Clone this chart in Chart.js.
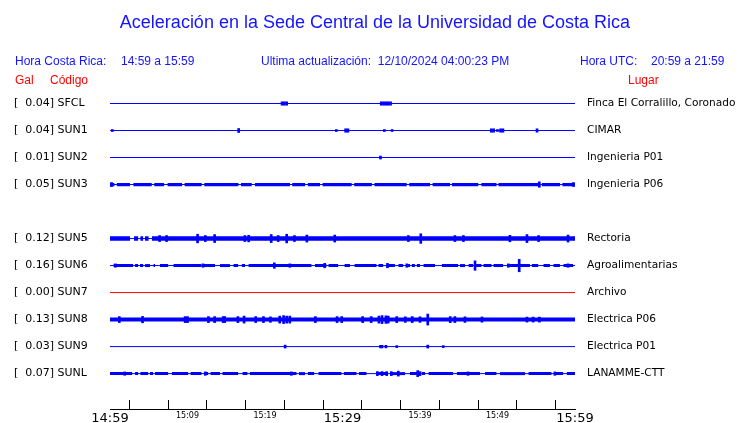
<!DOCTYPE html>
<html>
<head>
<meta charset="utf-8">
<script src="https://cdn.jsdelivr.net/npm/chart.js@4.4.1/dist/chart.umd.min.js"></script>
<style>
  html, body { margin: 0; padding: 0; background: #fff; }
  #wrap { position: relative; width: 740px; height: 423px; overflow: hidden; }
  canvas { position: absolute; left: 0; top: 0; }
  .t { position: absolute; white-space: pre; font-family: "Liberation Sans", Arial, sans-serif;
       font-size: 12px; line-height: 12px; color: #1414ff; }
  #title { font-size: 18px; line-height: 18px; left: 0; width: 750px; text-align: center; top: 13px; }
  .red { color: #ff0000; }
</style>
</head>
<body>
<div id="wrap">
  <canvas id="sismo" width="740" height="423"></canvas>
  <div class="t" id="title">Aceleración en la Sede Central de la Universidad de Costa Rica</div>
  <div class="t" style="left:15px;top:55px">Hora Costa Rica:</div>
  <div class="t" style="left:121px;top:55px">14:59 a 15:59</div>
  <div class="t" style="left:261px;top:55px">Ultima actualización:  12/10/2024 04:00:23 PM</div>
  <div class="t" style="left:580px;top:55px">Hora UTC:</div>
  <div class="t" style="left:651px;top:55px">20:59 a 21:59</div>
  <div class="t red" style="left:15px;top:74px">Gal</div>
  <div class="t red" style="left:50px;top:74px">Código</div>
  <div class="t red" style="left:628px;top:74px">Lugar</div>
</div>
<script>
// Station traces, one row each (row 4 = SUN4 is not reporting)
const stations = ["SFCL", "SUN1", "SUN2", "SUN3", "SUN5", "SUN6", "SUN7", "SUN8", "SUN9", "SUNL"];
const rows = [0, 1, 2, 3, 5, 6, 7, 8, 9, 10];
const peakGal = [0.04, 0.04, 0.01, 0.05, 0.12, 0.16, 0.00, 0.13, 0.03, 0.07];
const places = ["Finca El Corralillo, Coronado", "CIMAR", "Ingenieria P01", "Ingenieria P06", "Rectoria",
  "Agroalimentarias", "Archivo", "Electrica P06", "Electrica P01", "LANAMME-CTT"];

// half width of the background noise band (counts, 27 counts = one row)
const noiseLevel = [0, 0, 0, 1.6, 2.3, 1.5, 0, 2.0, 0, 1.5];

// stretches (minutes after 14:59) where the noise band is present
const sun3Noise = [[0, 0.6], [0.85, 2.6], [3.0, 5.4], [5.7, 7.0], [7.4, 9.3], [9.6, 11.85], [12.15, 16.6],
  [16.9, 18.3], [18.7, 23.25], [23.5, 25.2], [25.5, 27.1], [27.4, 31.2], [31.5, 33.8], [34.1, 38.3],
  [38.6, 41.3], [41.6, 43.9], [44.1, 47.55], [47.9, 49.9], [50.1, 55.3], [55.7, 58.1], [58.35, 60]];
const sun5Noise = [[0, 2.6], [3.1, 3.65], [3.9, 4.3], [4.5, 5.0], [5.4, 60]];
const sun6Noise = [[0.43, 3.01], [3.23, 3.65], [3.87, 4.3], [4.52, 5.16], [5.59, 5.81], [6.45, 7.53], [8.17, 11.83],
  [12.04, 13.55], [14.19, 15.48], [15.91, 16.56], [16.99, 17.42], [17.85, 26.02], [26.45, 27.96], [28.17, 29.46],
  [30.24, 30.97], [31.53, 34.41], [34.62, 35.27], [35.7, 36.77], [37.2, 37.85], [38.28, 38.71], [38.92, 39.35],
  [39.57, 40.0], [40.43, 41.94], [42.8, 44.95], [45.16, 45.81], [46.24, 46.88], [47.1, 47.96], [48.17, 49.25],
  [49.46, 50.75], [51.4, 54.19], [54.41, 55.27], [55.91, 56.77], [57.2, 58.06], [58.49, 59.78]];
const sun8Noise = [[0, 60]];
const sunlNoise = [[0, 2.88], [3.23, 3.65], [3.9, 4.95], [5.16, 5.59], [5.81, 7.53], [7.96, 10.11], [10.37, 11.83],
  [12.09, 12.69], [12.95, 14.19], [14.49, 16.56], [17.08, 17.76], [18.02, 24.09], [24.39, 25.16], [25.51, 26.37],
  [26.88, 29.89], [30.15, 31.83], [32.13, 33.12], [34.41, 35.91], [36.26, 38.06], [38.71, 39.78], [40.22, 40.65],
  [41.08, 44.3], [44.73, 47.74], [48.39, 49.89], [50.32, 53.55], [53.98, 56.99], [57.42, 58.49], [58.92, 60]];
const noiseSpans = [[], [], [], sun3Noise, sun5Noise, sun6Noise, [], sun8Noise, [], sunlNoise];

// peaks above the noise: [minute after 14:59, half amplitude in counts]
const sfclPeaks = [[22.2, 1.7], [22.5, 1.7], [22.8, 1.7], [35.0, 1.7], [35.3, 1.7], [35.6, 1.7], [35.9, 1.7], [36.2, 1.7]];
const sun1Peaks = [[0.3, 1], [16.6, 2], [29.2, 1], [30.4, 1.7], [30.7, 1.7], [35.4, 1], [36.4, 1], [49.2, 1.7], [49.5, 1.7],
  [50.0, 1], [50.4, 1.7], [50.7, 1.7], [55.1, 1.7]];
const sun2Peaks = [[34.9, 1.5]];
const sun3Peaks = [[0.2, 2], [55.4, 2.7], [59.8, 2]];
const sun5Peaks = [[6.4, 3], [7.3, 3], [11.3, 4.3], [12.3, 3], [13.5, 4], [17.4, 3], [17.9, 3.3], [20.8, 4], [21.7, 3],
  [22.8, 4.3], [23.8, 3], [25.4, 3.5], [29.0, 3.5], [38.5, 3], [40.1, 4.8], [44.5, 3], [45.6, 3], [51.6, 3.2],
  [53.8, 4], [55.3, 3], [59.1, 3.5]];
const sun6Peaks = [[0.7, 1.7], [12.0, 1.7], [21.2, 2.7], [23.2, 1.7], [27.7, 2.2], [35.8, 2.2], [38.3, 1.7], [47.1, 4.7],
  [51.4, 1.7], [52.8, 6.2], [59.1, 1.7]];
const sun7Peaks = [];
const sun8Peaks = [[1.2, 3], [4.2, 3.2], [9.7, 3], [10.0, 3], [12.7, 3], [13.5, 3], [14.6, 3], [14.8, 3], [16.5, 3],
  [17.3, 3.5], [18.8, 3], [19.8, 3], [20.7, 2.7], [21.9, 3.5], [22.4, 4], [22.8, 3.5], [23.2, 3.5], [26.5, 3],
  [29.3, 3], [29.9, 3], [32.6, 3], [33.7, 3], [34.7, 3.5], [35.1, 4], [35.6, 3.8], [35.9, 3.5], [37.0, 3],
  [38.1, 2.8], [39.0, 3], [40.0, 2.8], [41.0, 5.5], [43.9, 3], [44.5, 3], [45.8, 2.8], [48.0, 2.6], [53.8, 2.5],
  [54.6, 2.5], [55.4, 2.5]];
const sun9Peaks = [[22.6, 1.5], [34.9, 1.3], [35.1, 1.3], [35.6, 1.3], [37.0, 1], [41.0, 1.5], [43.0, 1]];
const sunlPeaks = [[1.9, 1.7], [12.3, 1.7], [23.4, 1.7], [34.5, 2], [35.1, 2], [35.7, 2], [36.3, 2], [37.2, 2.5],
  [39.7, 3], [40.0, 2], [46.2, 1.7], [57.4, 1.7]];
const peaks = [sfclPeaks, sun1Peaks, sun2Peaks, sun3Peaks, sun5Peaks, sun6Peaks, sun7Peaks, sun8Peaks, sun9Peaks, sunlPeaks];

// time axis, minutes after 14:59
const timeTicks = [0, 5, 10, 15, 20, 25, 30, 35, 40, 45, 50, 55, 60];
const timeLabels = ["14:59", "", "15:09", "", "15:19", "", "15:29", "", "15:39", "", "15:49", "", "15:59"];
const COUNTS_PER_ROW = 27;

const BLUE = "#0000ff";
const RED = "#ff0000";
const traceColor = stations.map((s, i) => (peakGal[i] === 0 ? RED : BLUE));

// one edge of the noise band, broken where the trace goes quiet
function bandEdge(spans, y) {
  const pts = [];
  spans.forEach(([a, b]) => {
    pts.push({ x: a, y }, { x: b, y }, { x: b, y: null });
  });
  return pts;
}

const datasets = [];
stations.forEach((s, i) => {
  const r = rows[i];
  const t0 = timeTicks[0], t1 = timeTicks[timeTicks.length - 1];
  if (noiseLevel[i] > 0) {
    const h = noiseLevel[i] / COUNTS_PER_ROW;
    datasets.push({ type: "line", data: bandEdge(noiseSpans[i], r - h),
      borderColor: "rgba(0,0,0,0)", borderWidth: 0, pointRadius: 0, fill: false, spanGaps: false });
    datasets.push({ type: "line", data: bandEdge(noiseSpans[i], r + h),
      borderColor: "rgba(0,0,0,0)", borderWidth: 0, pointRadius: 0, fill: "-1", spanGaps: false,
      backgroundColor: traceColor[i] });
  }
  datasets.push({ type: "line", data: [{ x: t0, y: r }, { x: t1, y: r }],
    borderColor: traceColor[i], borderWidth: 1, pointRadius: 0, fill: false });
});

const peakBars = [];
peaks.forEach((list, i) => {
  list.forEach(([m, a]) => {
    const h = a / COUNTS_PER_ROW;
    peakBars.push({ x: m, y: [rows[i] - h, rows[i] + h] });
  });
});
datasets.push({ type: "bar", data: peakBars, backgroundColor: BLUE, borderWidth: 0,
  barThickness: 2, grouped: false });

const rowTicks = (scale) => { scale.ticks = rows.map((v) => ({ value: v })); };

new Chart(document.getElementById("sismo"), {
  type: "line",
  data: { datasets },
  options: {
    responsive: false,
    animation: false,
    devicePixelRatio: 1,
    layout: { autoPadding: false, padding: { left: 14, top: 90, right: 0, bottom: 0 } },
    plugins: { legend: { display: false }, tooltip: { enabled: false } },
    scales: {
      x: {
        type: "linear",
        min: 0,
        max: 60,
        offset: false,
        afterBuildTicks: (scale) => { scale.ticks = timeTicks.map((v) => ({ value: v })); },
        afterFit: (scale) => { scale.height = 14; },
        grid: { drawOnChartArea: false, drawTicks: true, tickLength: -9, color: "#000", lineWidth: 1 },
        border: { display: true, color: "#000", width: 1 },
        ticks: {
          autoSkip: false,
          maxRotation: 0,
          padding: 11,
          color: "#000",
          callback: (v, i) => timeLabels[i],
          font: (ctx) => (ctx.index % 6 === 0
            ? { family: "'DejaVu Sans', sans-serif", size: 13 }
            : { family: "'DejaVu Sans', sans-serif", size: 8 })
        }
      },
      y: {
        type: "linear",
        position: "left",
        reverse: true,
        min: -0.5,
        max: 11.31,
        afterBuildTicks: rowTicks,
        afterFit: (scale) => { scale.width = 96; },
        grid: { display: false, drawTicks: false },
        border: { display: false },
        ticks: {
          autoSkip: false,
          crossAlign: "far",
          padding: 0,
          color: "#000",
          font: { family: "'DejaVu Sans', sans-serif", size: 11 },
          callback: (v) => {
            const i = rows.indexOf(v);
            return `[  ${peakGal[i].toFixed(2)}] ${stations[i]}`;
          }
        }
      },
      y2: {
        type: "linear",
        position: "right",
        reverse: true,
        min: -0.5,
        max: 11.31,
        afterBuildTicks: rowTicks,
        afterFit: (scale) => { scale.width = 165; },
        // hidden tick marks only keep the labels 12px off the plot
        grid: { display: false, drawTicks: true, tickLength: 12 },
        border: { display: false },
        ticks: {
          autoSkip: false,
          padding: 0,
          color: "#000",
          font: { family: "'DejaVu Sans', sans-serif", size: 10.6 },
          callback: (v) => places[rows.indexOf(v)]
        }
      }
    }
  }
});
</script>
</body>
</html>
